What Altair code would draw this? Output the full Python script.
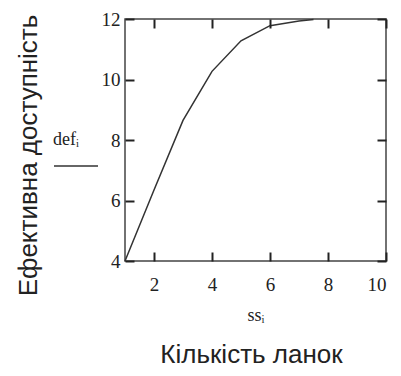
import altair as alt
import pandas as pd

ss = [1, 2, 3, 4, 5, 6, 7, 7.5]
defv = [4.0, 6.35, 8.65, 10.27, 11.28, 11.78, 11.93, 11.98]
series = ["def"] * len(ss)

x_ticks = [2, 4, 6, 8, 10]
y_ticks = [4, 6, 8, 10, 12]

df = pd.DataFrame({"ss": ss, "def": defv, "s": series})

SERIF = "Liberation Serif"
SANS = "Liberation Sans"
TXT = "#222222"
TCOL = "#222222"
TSIZE = alt.ExprRef("-9")

x_scale = alt.Scale(domain=[1, 10], nice=False, zero=False)
y_scale = alt.Scale(domain=[4, 12], nice=False, zero=False)

main = alt.Chart(df).mark_line(strokeWidth=1.5).encode(
    x=alt.X("ss:Q", scale=x_scale,
            axis=alt.Axis(values=x_ticks, title="ssᵢ", grid=False, domain=False, zindex=3,
                          ticks=True, tickSize=TSIZE, tickWidth=2, tickColor=TCOL,
                          labelFont=SERIF, labelFontSize=19, labelColor=TXT, labelPadding=23,
                          titleFont=SERIF, titleFontSize=18, titleFontWeight="normal",
                          titleColor=TXT, titlePadding=12)),
    y=alt.Y("def:Q", scale=y_scale,
            axis=alt.Axis(values=y_ticks, title="Ефективна доступність", grid=False, domain=False,
                          zindex=3, ticks=True, tickSize=TSIZE, tickWidth=2, tickColor=TCOL,
                          labelFont=SERIF, labelFontSize=19, labelColor=TXT, labelPadding=14,
                          titleFont=SANS, titleFontSize=26, titleFontWeight="normal",
                          titleColor=TXT, titleAngle=270, titleX=-97, titleY=136,
                          titleAlign="center", titleBaseline="middle")),
    color=alt.Color("s:N", scale=alt.Scale(range=["#333333"]),
                    legend=alt.Legend(orient="none", legendX=-72, legendY=112,
                                      title="defᵢ", titleFont=SERIF, titleFontSize=18,
                                      titleFontWeight="normal", titleColor=TXT, titlePadding=-6,
                                      symbolType="stroke", symbolSize=1936,
                                      symbolStrokeWidth=1.5, symbolStrokeColor="#333333",
                                      labelExpr="''", labelFontSize=1)),
)

frame = alt.Chart(df).mark_line(opacity=0).encode(
    x=alt.X("ss:Q", scale=x_scale,
            axis=alt.Axis(orient="top", values=x_ticks, title=None, labels=False, grid=False,
                          domain=False, zindex=3, ticks=True, tickSize=TSIZE,
                          tickWidth=2, tickColor=TCOL)),
    y=alt.Y("def:Q", scale=y_scale,
            axis=alt.Axis(orient="right", values=y_ticks, title=None, labels=False, grid=False,
                          domain=False, zindex=3, ticks=True, tickSize=TSIZE,
                          tickWidth=2, tickColor=TCOL)),
)

chart = alt.layer(main, frame).resolve_axis(x="independent", y="independent").properties(
    width=261, height=242,
    autosize=alt.AutoSizeParams(type="none"),
    padding={"left": 117, "top": 11, "right": 7, "bottom": 107},
    title=alt.TitleParams("Кількість ланок", orient="bottom", anchor="middle", frame="group",
                          font=SANS, fontSize=26, fontWeight="normal", color=TXT, dx=-4,
                          offset=18),
).configure_view(stroke="#444444", strokeWidth=1.5)

chart.save("out.html", embed_options={"renderer": "svg", "actions": False})
